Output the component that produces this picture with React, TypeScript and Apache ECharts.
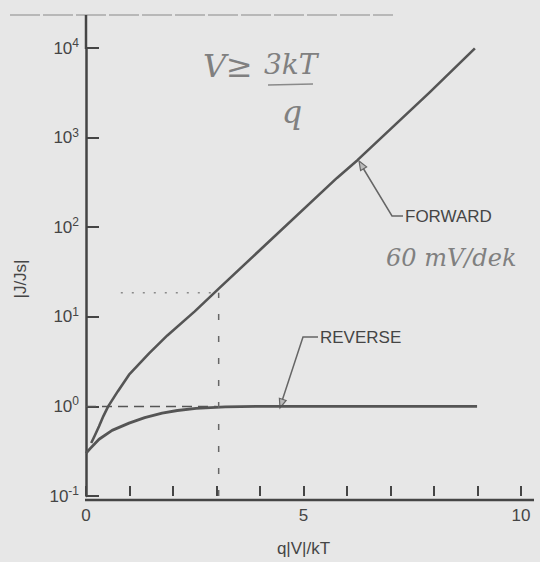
import { useEffect, useRef } from "react";
import * as echarts from "echarts";

const forwardX = [0.12, 0.2, 0.3, 0.4, 0.51, 0.73, 0.99, 1.45, 1.87, 2.5, 3.07, 5.77, 6.24, 7.9, 8.94];
const forwardY = [0.39, 0.47, 0.6, 0.78, 1.0, 1.47, 2.26, 3.9, 6.2, 11.5, 21, 355, 560, 3200, 9900];
const reverseX = [0.0, 0.1, 0.3, 0.6, 0.99, 1.35, 1.75, 2.1, 2.53, 3.2, 4.0, 6.0, 8.99];
const reverseY = [0.3, 0.34, 0.43, 0.54, 0.65, 0.75, 0.84, 0.9, 0.95, 0.99, 1.0, 1.0, 1.0];
const guideOneX = [0, 3];
const guideOneY = [1, 1];
const guideVertX = [3.05, 3.05];
const guideVertY = [0.1, 18.5];
const guideDotX = [0.8, 2.95];
const guideDotY = [18.5, 18.5];
const xLabelsShown = [0, 5, 10];

const INK = "#454545";
const BG = "#e7e7e7";
const FONT = "Liberation Sans, Arial, sans-serif";

const zip = (xs: number[], ys: number[]) => xs.map((x, i) => [x, ys[i]]);

export default function App() {
  const ref = useRef<HTMLDivElement>(null);
  useEffect(() => {
    if (!ref.current) return;
    const chart = echarts.init(ref.current, undefined, { renderer: "svg" });
    chart.setOption({
      animation: false,
      backgroundColor: BG,
      grid: { left: 86, right: 19, top: 48, bottom: 62, containLabel: false },
      xAxis: {
        type: "value",
        min: 0,
        max: 10,
        interval: 1,
        name: "q|V|/kT",
        nameLocation: "middle",
        nameGap: 44,
        nameTextStyle: { color: INK, fontSize: 17, fontFamily: FONT },
        axisLine: { show: false, onZero: false },
        axisTick: { show: true, inside: true, length: 10, lineStyle: { color: INK, width: 2 } },
        axisLabel: {
          color: INK,
          fontSize: 17,
          fontFamily: FONT,
          margin: 11,
          formatter: (v: number) => (xLabelsShown.includes(v) ? String(v) : ""),
        },
        splitLine: { show: false },
      },
      yAxis: {
        type: "log",
        logBase: 10,
        min: 0.1,
        max: 10000,
        axisLine: { show: true, onZero: false, lineStyle: { color: INK, width: 2.5 } },
        axisTick: { show: true, inside: true, length: 13, lineStyle: { color: INK, width: 2 } },
        axisLabel: {
          margin: 7,
          formatter: (v: number) => {
            const e = Math.round(Math.log10(v));
            return `{b|10}{s|${e}}`;
          },
          rich: {
            b: { color: INK, fontSize: 17, fontFamily: FONT },
            s: { color: INK, fontSize: 12, fontFamily: FONT, verticalAlign: "top", padding: [0, 0, 10, 0] },
          },
        },
        splitLine: { show: false },
      },
      series: [
        {
          type: "line",
          data: zip(forwardX, forwardY),
          smooth: false,
          showSymbol: false,
          lineStyle: { color: "#555", width: 2.6, join: "round" },
        },
        {
          type: "line",
          data: zip(reverseX, reverseY),
          smooth: false,
          showSymbol: false,
          lineStyle: { color: "#555", width: 2.8, join: "round" },
        },
        {
          type: "line",
          data: zip(guideOneX, guideOneY),
          showSymbol: false,
          lineStyle: { color: "#555", width: 1.5, type: [10, 6] },
        },
        {
          type: "line",
          data: zip(guideVertX, guideVertY),
          showSymbol: false,
          lineStyle: { color: "#666", width: 1.5, type: [6, 16] },
        },
        {
          type: "line",
          data: zip(guideDotX, guideDotY),
          showSymbol: false,
          lineStyle: { color: "#8a8a8a", width: 1.5, type: [2, 9] },
        },
      ],
      graphic: [
        { type: "line", shape: { x1: 10, y1: 15, x2: 393, y2: 15 }, style: { stroke: "#8a8a8a", lineWidth: 1.2, lineDash: [30, 3] } },
        { type: "line", shape: { x1: 86, y1: 15, x2: 86, y2: 49 }, style: { stroke: INK, lineWidth: 2.5 } },
        { type: "line", shape: { x1: 85, y1: 500, x2: 534, y2: 500 }, style: { stroke: INK, lineWidth: 2.5 } },
        { type: "rect", shape: { x: 82, y: 90, width: 8, height: 5 }, style: { fill: BG } },
        { type: "polyline", shape: { points: [[360, 163], [392, 216], [403, 216]] }, style: { stroke: "#666", lineWidth: 1.5, fill: null } },
        { type: "polygon", shape: { points: [[359, 161], [360.6, 170.5], [366.6, 166.9]] }, style: { stroke: "#666", lineWidth: 1.2, fill: "#bbb" } },
        { type: "text", x: 405, y: 216, style: { text: "FORWARD", fill: INK, fontSize: 17, fontFamily: FONT, verticalAlign: "middle" } },
        { type: "polyline", shape: { points: [[318, 337], [303, 337], [281, 404]] }, style: { stroke: "#666", lineWidth: 1.5, fill: null } },
        { type: "polygon", shape: { points: [[280, 408], [279.4, 398.3], [286.1, 400.5]] }, style: { stroke: "#666", lineWidth: 1.2, fill: "#bbb" } },
        { type: "text", x: 320, y: 337, style: { text: "REVERSE", fill: INK, fontSize: 17, fontFamily: FONT, verticalAlign: "middle" } },
        { type: "text", x: 20, y: 279, rotation: Math.PI / 2, style: { text: "|J/Js|", fill: INK, fontSize: 17, fontFamily: FONT, align: "center", verticalAlign: "middle" } },
        { type: "text", x: 203, y: 66, style: { text: "V≥", fill: "#808080", fontSize: 32, fontStyle: "italic", fontFamily: "DejaVu Serif, serif", verticalAlign: "middle" } },
        { type: "text", x: 264, y: 64, style: { text: "3kT", fill: "#808080", fontSize: 28, fontStyle: "italic", fontFamily: "DejaVu Serif, serif", verticalAlign: "middle" } },
        { type: "line", shape: { x1: 268, y1: 85, x2: 313, y2: 84 }, style: { stroke: "#8a8a8a", lineWidth: 1.5 } },
        { type: "text", x: 292, y: 112, style: { text: "q", fill: "#808080", fontSize: 32, fontStyle: "italic", fontFamily: "DejaVu Serif, serif", align: "center", verticalAlign: "middle" } },
        { type: "text", x: 386, y: 258, style: { text: "60 mV/dek", fill: "#808080", fontSize: 24, fontStyle: "italic", fontFamily: "DejaVu Serif, serif", verticalAlign: "middle" } },
      ],
    });
    return () => chart.dispose();
  }, []);
  return (
    <div
      ref={ref}
      style={{ position: "fixed", left: 0, top: 0, width: 540, height: 562, background: BG }}
    />
  );
}
